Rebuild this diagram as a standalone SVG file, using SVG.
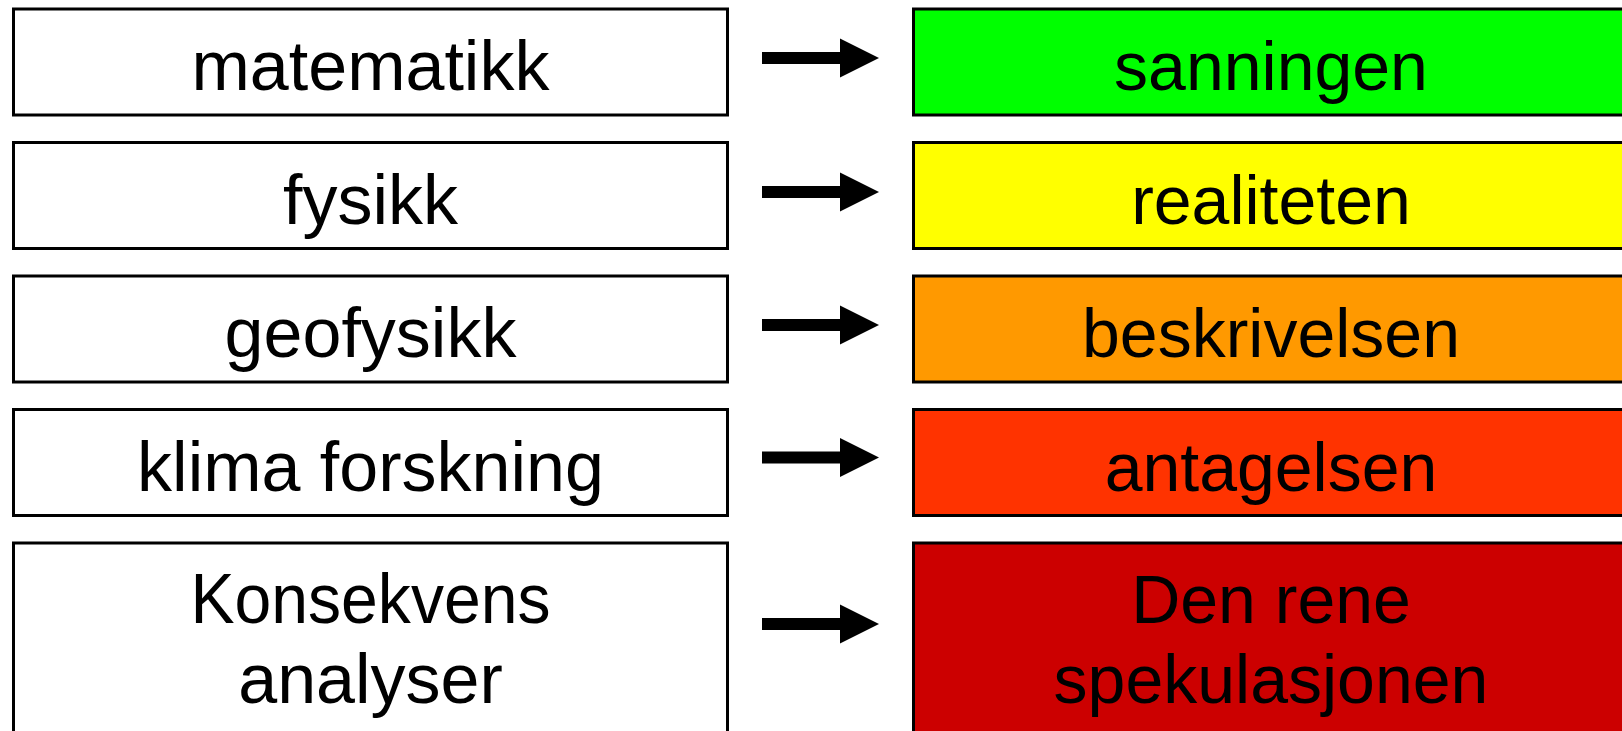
<svg xmlns="http://www.w3.org/2000/svg" width="1622" height="731" viewBox="0 0 1622 731">
<style>
.box{stroke:#000;stroke-width:3;}
.l{fill:#fff;}
.t{font-family:"Liberation Sans",Arial,sans-serif;fill:#000;text-anchor:middle;}
.tl{font-size:70px;}
.tr{font-size:68px;}
.arr{fill:#000;}
</style>
<defs>
<path id="arrow" d="M762,-6 H840 V-19.5 L879,0 L840,19.5 V6 H762 Z"/>
</defs>
<rect x="0" y="0" width="1622" height="731" fill="#fff"/>
<g id="n-matematikk"><rect class="box l" x="13.5" y="9" width="714" height="106"/><text class="t tl" x="370.5" y="90">matematikk</text></g>
<g id="n-fysikk"><rect class="box l" x="13.5" y="142.5" width="714" height="106"/><text class="t tl" x="370.5" y="223.5">fysikk</text></g>
<g id="n-geofysikk"><rect class="box l" x="13.5" y="276" width="714" height="106"/><text class="t tl" x="370.5" y="357">geofysikk</text></g>
<g id="n-klima"><rect class="box l" x="13.5" y="409.5" width="714" height="106"/><text class="t tl" x="370.5" y="490.5">klima forskning</text></g>
<g id="n-konsekvens"><rect class="box l" x="13.5" y="543" width="714" height="220"/><text class="t tl" x="370.5" y="623" textLength="360" lengthAdjust="spacingAndGlyphs">Konsekvens</text><text class="t tl" x="370.5" y="703">analyser</text></g>
<g id="n-sanningen"><rect class="box" fill="#00FF00" x="913.5" y="9" width="730" height="106"/><text class="t tr" x="1271" y="90">sanningen</text></g>
<g id="n-realiteten"><rect class="box" fill="#FFFF00" x="913.5" y="142.5" width="730" height="106"/><text class="t tr" x="1271" y="223.5">realiteten</text></g>
<g id="n-beskrivelsen"><rect class="box" fill="#FF9900" x="913.5" y="276" width="730" height="106"/><text class="t tr" x="1271" y="357">beskrivelsen</text></g>
<g id="n-antagelsen"><rect class="box" fill="#FF3300" x="913.5" y="409.5" width="730" height="106"/><text class="t tr" x="1271" y="490.5">antagelsen</text></g>
<g id="n-spekulasjonen"><rect class="box" fill="#CC0000" x="913.5" y="543" width="730" height="220"/><text class="t tr" x="1271" y="623">Den rene</text><text class="t tr" x="1271" y="703">spekulasjonen</text></g>
<g id="connectors" class="arr">
<use href="#arrow" transform="translate(0,58)"/>
<use href="#arrow" transform="translate(0,192)"/>
<use href="#arrow" transform="translate(0,325)"/>
<use href="#arrow" transform="translate(0,457.5)"/>
<use href="#arrow" transform="translate(0,624)"/>
</g>
</svg>
